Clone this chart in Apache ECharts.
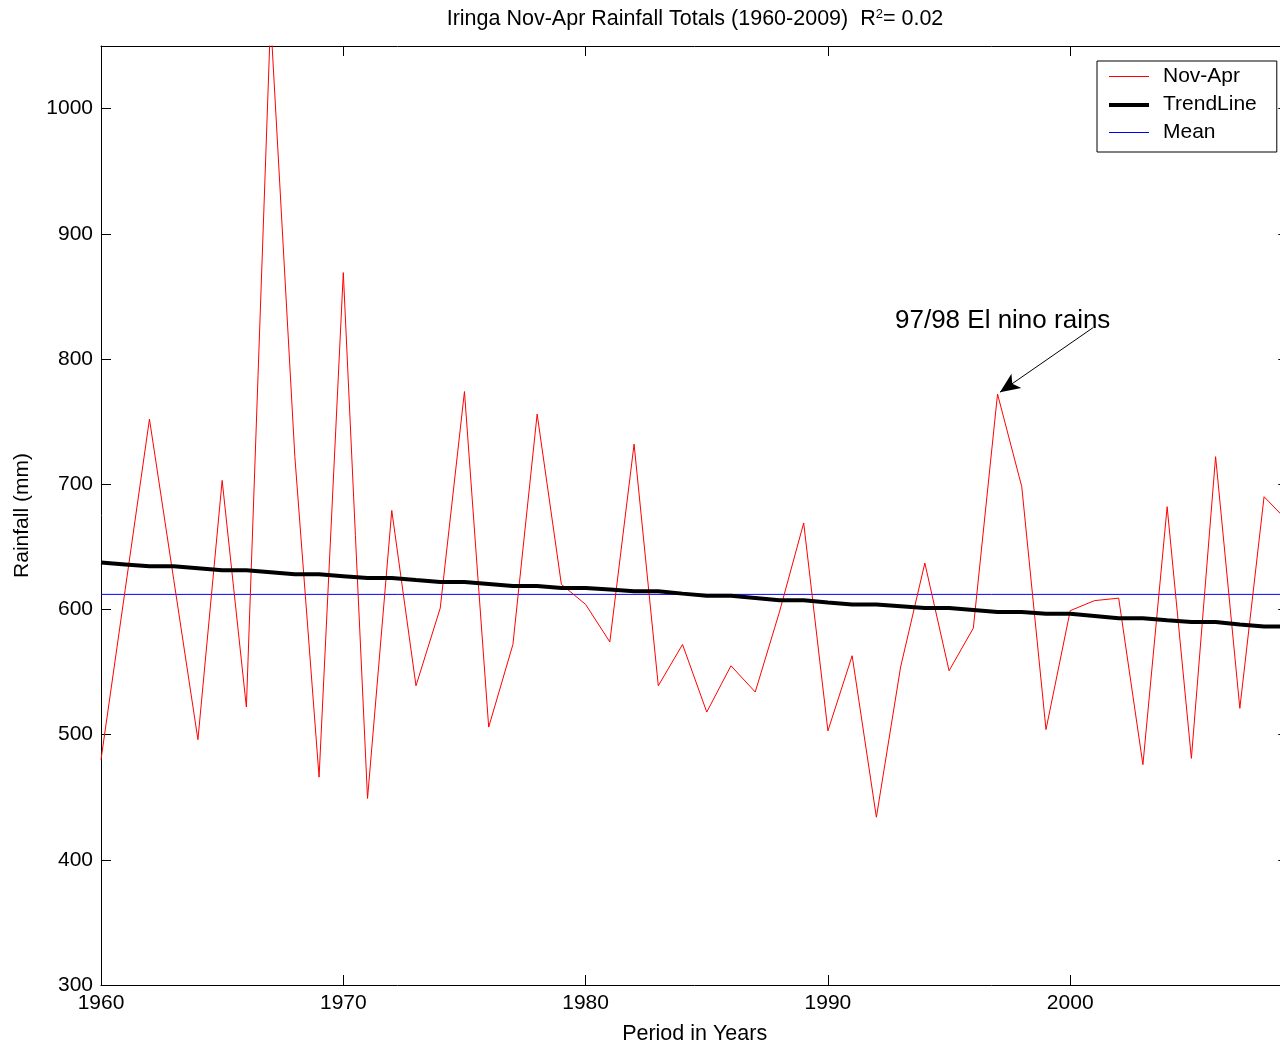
<!DOCTYPE html>
<html>
<head>
<meta charset="utf-8">
<script src="https://cdn.jsdelivr.net/npm/echarts@6/dist/echarts.min.js"></script>
<style>
  html, body { margin: 0; padding: 0; background: #fff; overflow: hidden; }
  #chart { width: 1300px; height: 1046px; }
</style>
</head>
<body>
<div id="chart"></div>
<script>
const years = [1960,1961,1962,1963,1964,1965,1966,1967,1968,1969,
               1970,1971,1972,1973,1974,1975,1976,1977,1978,1979,
               1980,1981,1982,1983,1984,1985,1986,1987,1988,1989,
               1990,1991,1992,1993,1994,1995,1996,1997,1998,1999,
               2000,2001,2002,2003,2004,2005,2006,2007,2008,2009];
const rainfall = [480,616,752,624,496,703,522,1072,722,466,
                  869,449,679,539,601,774,506,572,756,620,
                  604,574,732,539,572,518,555,534,598,669,
                  503,563,434,554,637,551,585,772,698,504,
                  599,607,609,476,682,481,722,521,690,670];
const trend = [637.4,635.9,634.4,634.4,632.8,631.2,631.2,629.6,628.0,628.0,
               626.5,625.0,625.0,623.4,621.9,621.9,620.3,618.7,618.7,617.1,
               617.1,615.8,614.5,614.5,612.6,610.9,610.9,609.1,607.3,607.3,
               605.6,604.0,604.0,602.6,601.2,601.2,599.6,598.0,598.0,596.6,
               596.6,594.8,593.0,593.0,591.4,590.0,590.0,588.0,586.4,586.4];
const meanValue = 612;
const seriesNames = ['Nov-Apr', 'TrendLine', 'Mean'];
const seriesColors = ['#ff0000', '#000000', '#0000ff'];
const seriesWidths = [1, 4, 1];
const xTickLabels = [1960, 1970, 1980, 1990, 2000];
const yTickLabels = [300, 400, 500, 600, 700, 800, 900, 1000];

const FONT = '"Liberation Sans", Arial, Helvetica, sans-serif';
const chart = echarts.init(document.getElementById('chart'), null, { renderer: 'canvas' });

const xMin = years[0], xMax = years[years.length - 1];
const commonX = {
  type: 'value', min: xMin, max: xMax, interval: 10,
  splitLine: { show: false },
  axisLine: { show: true, onZero: false, lineStyle: { color: '#000', width: 1 } },
  axisTick: { show: true, inside: true, length: 10, lineStyle: { color: '#000' } }
};
const commonY = {
  type: 'value', min: 300, max: 1050, interval: 100,
  splitLine: { show: false },
  axisLine: { show: true, onZero: false, lineStyle: { color: '#000', width: 1 } },
  axisTick: { show: true, inside: true, length: 10, lineStyle: { color: '#000' } }
};

// legend layout (pixels)
const LEG_LEFT = 1097, LEG_TOP = 61, LEG_PAD_TOP = 5, LEG_ROW = 21, LEG_GAP = 7;
const legendSamples = seriesNames.map((n, i) => {
  const cy = LEG_TOP + LEG_PAD_TOP + i * (LEG_ROW + LEG_GAP) + LEG_ROW / 2;
  const yy = seriesWidths[i] % 2 === 1 ? Math.floor(cy) + 0.5 : Math.round(cy);
  return {
    type: 'line', z: 200,
    shape: { x1: LEG_LEFT + 12, y1: yy, x2: LEG_LEFT + 52, y2: yy },
    style: { stroke: seriesColors[i], lineWidth: seriesWidths[i] }
  };
});

const option = {
  backgroundColor: '#fff',
  animation: false,
  title: {
    text: 'Iringa Nov-Apr Rainfall Totals (1960-2009)  R{sup|2}= 0.02',
    left: 690, textAlign: 'center', top: 3,
    textStyle: {
      fontFamily: FONT, fontSize: 21.5, fontWeight: 'normal', color: '#000',
      rich: { sup: { fontFamily: FONT, fontSize: 13, verticalAlign: 'top', padding: [0, 0, 10, 0], color: '#000' } }
    }
  },
  grid: { left: 101, top: 46, width: 1187.3, height: 939, containLabel: false, outerBoundsMode: 'none' },
  legend: {
    orient: 'vertical', left: LEG_LEFT, top: LEG_TOP,
    data: seriesNames.map(n => ({ name: n, icon: 'rect', itemStyle: { opacity: 0 } })),
    itemWidth: 40, itemHeight: 14, itemGap: LEG_GAP,
    padding: [LEG_PAD_TOP, 20, 9, 12],
    borderColor: '#000', borderWidth: 1, backgroundColor: '#fff',
    textStyle: { fontFamily: FONT, fontSize: 21, color: '#000', lineHeight: LEG_ROW, padding: [0, 0, 0, 9] }
  },
  xAxis: [
    Object.assign({}, commonX, {
      position: 'bottom',
      name: 'Period in Years', nameLocation: 'middle', nameGap: 38,
      nameTextStyle: { fontFamily: FONT, fontSize: 21.5, color: '#000' },
      axisLabel: {
        margin: 8, fontFamily: FONT, fontSize: 21, color: '#000',
        formatter: v => xTickLabels.indexOf(v) >= 0 ? String(v) : ''
      }
    }),
    Object.assign({}, commonX, { position: 'top', axisLabel: { show: false } })
  ],
  yAxis: [
    Object.assign({}, commonY, {
      position: 'left',
      name: 'Rainfall (mm)', nameLocation: 'middle', nameGap: 68,
      nameTextStyle: { fontFamily: FONT, fontSize: 21, color: '#000' },
      axisLabel: {
        margin: 8, fontFamily: FONT, fontSize: 21, color: '#000',
        formatter: v => yTickLabels.indexOf(v) >= 0 ? String(v) : ''
      }
    }),
    Object.assign({}, commonY, { position: 'right', axisLabel: { show: false } })
  ],
  series: [
    {
      name: seriesNames[0], type: 'line', xAxisIndex: 0, yAxisIndex: 0,
      data: years.map((y, i) => [y, rainfall[i]]),
      symbol: 'none', lineStyle: { color: seriesColors[0], width: seriesWidths[0] },
      itemStyle: { color: seriesColors[0] }, color: seriesColors[0],
      clip: true, z: 3,
      markLine: {
        silent: true, animation: false,
        symbol: ['none', 'arrow'], symbolSize: [13, 20],
        lineStyle: { color: '#000', width: 1, type: 'solid' },
        itemStyle: { color: '#000' },
        label: { show: false },
        emphasis: { disabled: true },
        data: [[{ coord: [2000.94, 825] }, { coord: [1997.1, 773.5] }]]
      }
    },
    {
      name: seriesNames[1], type: 'line', xAxisIndex: 0, yAxisIndex: 0,
      data: years.map((y, i) => [y, trend[i]]),
      symbol: 'none', lineStyle: { color: seriesColors[1], width: seriesWidths[1] },
      itemStyle: { color: seriesColors[1] }, color: seriesColors[1], z: 4
    },
    {
      name: seriesNames[2], type: 'line', xAxisIndex: 0, yAxisIndex: 0,
      data: [[xMin, meanValue], [xMax, meanValue]],
      symbol: 'none', lineStyle: { color: seriesColors[2], width: seriesWidths[2] },
      itemStyle: { color: seriesColors[2] }, color: seriesColors[2], z: 2
    }
  ],
  graphic: [
    {
      type: 'text', left: 895, top: 308, z: 100,
      style: { text: '97/98 El nino rains', font: '26px ' + FONT, fill: '#000' }
    }
  ].concat(legendSamples)
};
chart.setOption(option);
</script>
</body>
</html>
